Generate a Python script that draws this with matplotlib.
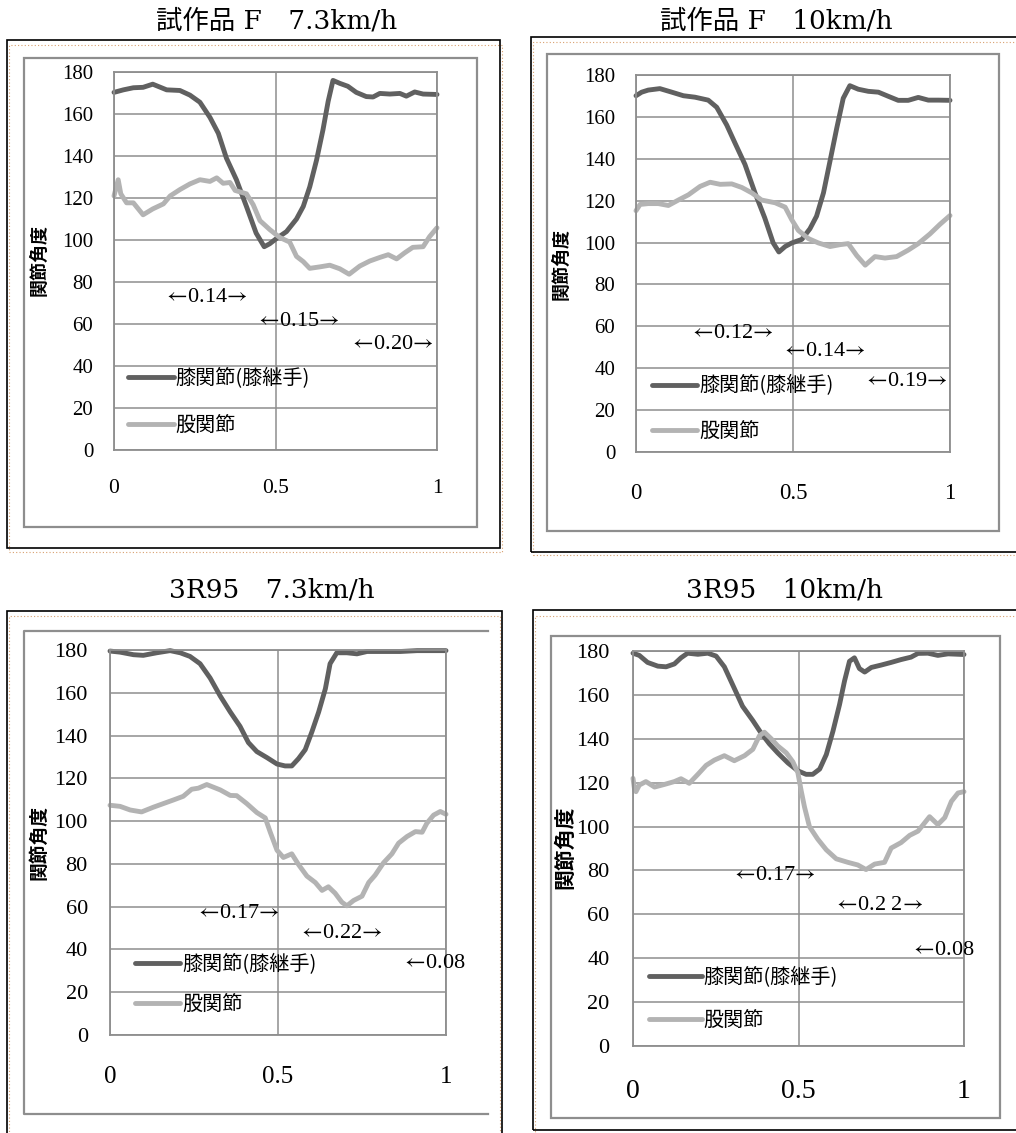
import matplotlib
matplotlib.use("Agg")
import matplotlib.pyplot as plt
from matplotlib.patches import Rectangle
from matplotlib.lines import Line2D

plt.rcParams['font.family'] = ['Liberation Serif', 'Noto Sans CJK JP', 'DejaVu Sans']
plt.rcParams['mathtext.fontset'] = 'stix'

# --- data (x = gait cycle 0..1, y = joint angle in deg) ---
y_ticks = [0, 20, 40, 60, 80, 100, 120, 140, 160, 180]
x_ticks = [0, 0.5, 1]
x_tick_labels = ['0', '0.5', '1']
legend_labels = ['膝関節(膝継手)', '股関節']
ylabel_text = '関節角度'

# 試作品 F 7.3km/h
f73_knee_x = [0, 0.029, 0.06, 0.09, 0.12, 0.163, 0.204, 0.235, 0.266, 0.297, 0.323, 0.348, 0.379,
              0.41, 0.44, 0.465, 0.482, 0.503, 0.534, 0.565, 0.586, 0.606, 0.627, 0.647, 0.663,
              0.678, 0.699, 0.724, 0.75, 0.781, 0.802, 0.823, 0.854, 0.885, 0.905, 0.931, 0.957, 1.0]
f73_knee = [170.3, 171.5, 172.5, 172.7, 174.2, 171.5, 171.2, 169.0, 165.6, 158.4, 150.8, 139.0, 128.7,
            116.0, 103.3, 96.8, 98.2, 100.7, 104.0, 110.0, 116.0, 125.3, 138.0, 152.5, 166.0,
            176.0, 174.6, 173.2, 170.3, 168.3, 168.1, 169.8, 169.5, 169.8, 168.5, 170.5, 169.5, 169.3]
f73_hip_x = [0, 0.013, 0.021, 0.039, 0.06, 0.09, 0.12, 0.153, 0.174, 0.204, 0.235, 0.266, 0.297,
             0.318, 0.338, 0.359, 0.375, 0.41, 0.431, 0.452, 0.482, 0.513, 0.544, 0.565, 0.586,
             0.606, 0.637, 0.668, 0.699, 0.728, 0.761, 0.792, 0.823, 0.849, 0.875, 0.9, 0.925,
             0.957, 0.977, 1.0]
f73_hip = [121.0, 128.7, 122.0, 117.7, 117.7, 112.0, 114.8, 117.2, 121.0, 124.0, 126.7, 128.7, 127.9,
           129.6, 127.0, 127.4, 123.6, 122.0, 116.8, 109.2, 105.0, 101.2, 99.0, 92.2, 89.7,
           86.5, 87.2, 88.0, 86.3, 83.7, 87.6, 90.0, 91.7, 93.0, 91.0, 93.9, 96.5,
           96.8, 101.6, 105.8]
f73_notes = ['←0.14→', '←0.15→', '←0.20→']
f73_note_x = [0.284, 0.568, 0.859]
f73_note_y = [72.7, 61.2, 50.3]

# 試作品 F 10km/h
f10_knee_x = [0, 0.018, 0.039, 0.076, 0.114, 0.151, 0.188, 0.23, 0.257, 0.289, 0.315, 0.347, 0.379,
              0.41, 0.437, 0.455, 0.475, 0.496, 0.528, 0.554, 0.575, 0.597, 0.618, 0.639, 0.66,
              0.681, 0.708, 0.74, 0.772, 0.804, 0.835, 0.867, 0.899, 0.931, 0.963, 1.0]
f10_knee = [170.1, 171.8, 172.8, 173.5, 171.8, 170.1, 169.4, 168.0, 164.6, 156.1, 147.6, 137.3, 123.7,
            111.8, 99.8, 95.5, 98.1, 99.8, 101.5, 106.6, 112.6, 123.7, 139.0, 154.4, 168.9,
            174.9, 173.2, 172.2, 171.8, 169.8, 167.9, 167.9, 169.3, 168.0, 168.0, 167.9]
f10_hip_x = [0, 0.013, 0.039, 0.071, 0.103, 0.135, 0.167, 0.204, 0.236, 0.268, 0.305, 0.337, 0.369,
             0.4, 0.443, 0.475, 0.496, 0.517, 0.549, 0.581, 0.618, 0.65, 0.676, 0.703, 0.73,
             0.761, 0.793, 0.83, 0.867, 0.899, 0.936, 0.968, 1.0]
f10_hip = [115.2, 118.2, 118.6, 118.6, 117.7, 120.3, 122.8, 126.8, 128.8, 127.8, 128.0, 126.3, 123.7,
           120.3, 119.0, 116.9, 110.9, 105.8, 101.9, 99.8, 98.1, 99.0, 99.5, 93.8, 89.2,
           93.3, 92.6, 93.3, 96.4, 99.5, 104.1, 108.7, 112.9]
f10_notes = ['←0.12→', '←0.14→', '←0.19→']
f10_note_x = [0.303, 0.597, 0.857]
f10_note_y = [56.8, 47.8, 33.6]

# 3R95 7.3km/h
r73_knee_x = [0, 0.03, 0.07, 0.099, 0.139, 0.179, 0.209, 0.238, 0.268, 0.298, 0.328, 0.358, 0.387,
              0.412, 0.437, 0.467, 0.497, 0.521, 0.541, 0.561, 0.581, 0.601, 0.621, 0.641, 0.655,
              0.675, 0.705, 0.735, 0.765, 0.814, 0.864, 0.914, 1.0]
r73_knee = [179.5, 179.0, 177.8, 177.5, 178.7, 179.7, 178.7, 177.0, 173.6, 166.9, 158.5, 151.0, 144.3,
            136.7, 132.5, 129.7, 126.7, 125.8, 125.8, 129.2, 133.4, 141.8, 151.0, 161.9, 173.6,
            178.7, 178.7, 178.2, 179.3, 179.3, 179.3, 179.7, 179.7]
r73_hip_x = [0, 0.03, 0.06, 0.094, 0.129, 0.159, 0.189, 0.218, 0.243, 0.263, 0.288, 0.328, 0.358,
             0.377, 0.407, 0.437, 0.462, 0.477, 0.497, 0.516, 0.541, 0.561, 0.586, 0.611, 0.631,
             0.65, 0.67, 0.69, 0.705, 0.725, 0.75, 0.77, 0.789, 0.814, 0.839, 0.859, 0.884,
             0.909, 0.929, 0.943, 0.963, 0.983, 1.0]
r73_hip = [107.4, 106.9, 105.2, 104.3, 106.5, 108.2, 109.9, 111.6, 114.9, 115.4, 117.1, 114.6, 112.0,
           111.9, 108.2, 104.0, 101.5, 94.8, 86.4, 83.0, 84.7, 79.7, 74.3, 71.3, 67.6,
           69.3, 66.3, 62.1, 60.4, 62.9, 64.9, 71.3, 74.7, 80.5, 84.7, 89.7, 92.8,
           95.1, 94.8, 99.0, 102.8, 104.5, 103.2]
r73_notes = ['←0.17→', '←0.22→', '←0.08']
r73_note_x = [0.379, 0.687, 0.866]
r73_note_y = [57.0, 47.5, 33.5]

# 3R95 10km/h
r10_knee_x = [0, 0.019, 0.044, 0.075, 0.1, 0.125, 0.145, 0.165, 0.196, 0.226, 0.251, 0.276, 0.306,
              0.331, 0.362, 0.387, 0.412, 0.437, 0.468, 0.498, 0.523, 0.543, 0.564, 0.584, 0.604,
              0.624, 0.639, 0.654, 0.669, 0.684, 0.7, 0.72, 0.75, 0.78, 0.81, 0.84, 0.861,
              0.891, 0.921, 0.952, 1.0]
r10_knee = [179.0, 178.0, 174.8, 173.1, 172.8, 174.1, 176.9, 179.0, 178.5, 179.0, 177.7, 172.8, 163.0,
            154.8, 148.3, 142.6, 137.7, 133.6, 129.0, 125.4, 123.8, 123.8, 126.2, 132.8, 143.4,
            155.6, 166.3, 175.3, 176.9, 172.0, 170.4, 172.5, 173.6, 174.8, 176.1, 177.2, 178.9,
            179.0, 178.0, 178.7, 178.4]
r10_hip_x = [0, 0.005, 0.009, 0.019, 0.039, 0.065, 0.095, 0.125, 0.145, 0.17, 0.196, 0.221, 0.246,
             0.276, 0.306, 0.337, 0.362, 0.382, 0.397, 0.417, 0.437, 0.463, 0.483, 0.498, 0.508,
             0.518, 0.533, 0.558, 0.584, 0.614, 0.649, 0.679, 0.704, 0.73, 0.76, 0.78, 0.81,
             0.836, 0.861, 0.896, 0.921, 0.942, 0.962, 0.982, 1.0]
r10_hip = [122.0, 116.5, 115.9, 118.9, 120.5, 118.0, 119.2, 120.5, 121.8, 119.7, 123.8, 127.9, 130.3,
           132.3, 130.0, 132.3, 135.2, 141.4, 143.0, 140.1, 136.8, 133.6, 129.5, 124.6, 116.4,
           109.0, 100.0, 94.3, 89.4, 85.3, 83.7, 82.5, 80.4, 82.9, 83.7, 90.2, 92.7,
           96.0, 97.9, 104.5, 100.9, 104.1, 111.5, 115.3, 115.9]
r10_notes = ['←0.17→', '←0.2 2→', '←0.08']
r10_note_x = [0.424, 0.74, 0.836]
r10_note_y = [77.5, 64.1, 43.3]

W, H = 1016, 1133
KNEE_C = '#606060'
HIP_C = '#b3b3b3'
GRID_C = '#8e8e8e'


def fig_box(x0, y0, x1, y1):
    return [x0 / W, 1 - y1 / H, (x1 - x0) / W, (y1 - y0) / H]


def frame(fig, box, **kw):
    fig.patches.append(Rectangle(box[:2], box[2], box[3], transform=fig.transFigure,
                                 fill=False, **kw))


def note_text(t):
    # long thin arrows like the original (STIX mathtext), digits stay in the serif font
    return t.replace('←', r'$\leftarrow\!$').replace('→', r'$\!\rightarrow$')


def draw_panel(fig, p):
    frame(fig, fig_box(*p['dotted']), ec='#d8a06e', lw=0.8, ls=(0, (1, 2)))
    frame(fig, fig_box(*p['outer']), ec='black', lw=1.2)
    x0, y0, x1, y1 = p['inner']
    if p.get('open_right'):
        xs = [x1 / W, x0 / W, x0 / W, x1 / W]
        ys = [1 - y0 / H, 1 - y0 / H, 1 - y1 / H, 1 - y1 / H]
        fig.lines.append(Line2D(xs, ys, transform=fig.transFigure, color='#8e8e8e', lw=1.6))
    else:
        frame(fig, fig_box(x0, y0, x1, y1), ec='#8e8e8e', lw=1.6)

    ax = fig.add_axes(fig_box(*p['plot']))
    ax.set_xlim(0, 1)
    ax.set_ylim(0, 180)
    ax.set_xticks(x_ticks)
    ax.set_xticklabels(x_tick_labels)
    ax.set_yticks(y_ticks)
    ax.grid(True, color=GRID_C, lw=1.1)
    ax.set_axisbelow(True)
    for s in ax.spines.values():
        s.set_color(GRID_C)
        s.set_linewidth(1.3)
    ax.tick_params(axis='x', length=0, pad=p['xpad'], labelsize=p['xsize'],
                   labelfontfamily='Liberation Serif')
    ax.tick_params(axis='y', length=0, pad=p['ypad'], labelsize=p['ysize'],
                   labelfontfamily='Liberation Serif')

    k, = ax.plot(p['kx'], p['ky'], color=KNEE_C, lw=3.5, clip_on=False, solid_capstyle='round')
    h, = ax.plot(p['hx'], p['hy'], color=HIP_C, lw=3.5, clip_on=False, solid_capstyle='round')

    for t, nx, ny in zip(p['notes'], p['nx'], p['ny']):
        ha = 'center' if t.endswith('→') else 'left'
        ax.text(nx, ny, note_text(t), ha=ha, va='center', fontsize=16,
                family='Liberation Serif')

    ax.set_ylabel(ylabel_text, family=['Noto Sans CJK JP'], weight='bold', fontsize=p['ylsize'])
    ax.yaxis.set_label_coords(*p['ylab'])

    ax.legend([k, h], legend_labels, loc='center left', bbox_to_anchor=p['leg'],
              frameon=False, borderpad=0, borderaxespad=0, handletextpad=0.1,
              handlelength=p['hlen'], labelspacing=p['lspace'],
              prop={'family': ['Noto Sans CJK JP'], 'size': 14.5})

    fig.text(p['title_xy'][0] / W, 1 - p['title_xy'][1] / H, p['title'], ha='center', va='center',
             fontsize=19, family=['DejaVu Serif', 'Noto Sans CJK JP'])
    return ax


panels = [
    dict(title='試作品 F　7.3km/h', title_xy=(277, 21), plot=(114, 72, 437, 450),
         outer=(7, 40, 500, 548), dotted=(9, 45, 502, 552), inner=(24, 58, 477, 527),
         ylab=(-0.204, 0.503), leg=(0.044, 0.127), hlen=2.25, lspace=1.3,
         xpad=21, ypad=15, xsize=15.5, ysize=15, ylsize=13,
         kx=f73_knee_x, ky=f73_knee, hx=f73_hip_x, hy=f73_hip,
         notes=f73_notes, nx=f73_note_x, ny=f73_note_y),
    dict(title='試作品 F　10km/h', title_xy=(776, 21), plot=(636, 75, 950, 452),
         outer=(531, 37, 1030, 552), dotted=(533, 42, 1030, 555), inner=(547, 54, 999, 531),
         ylab=(-0.21, 0.499), leg=(0.05, 0.115), hlen=2.25, lspace=1.2,
         xpad=22, ypad=15, xsize=16.5, ysize=15, ylsize=13,
         kx=f10_knee_x, ky=f10_knee, hx=f10_hip_x, hy=f10_hip,
         notes=f10_notes, nx=f10_note_x, ny=f10_note_y),
    dict(title='3R95　7.3km/h', title_xy=(272, 590), plot=(110, 650, 446, 1035),
         outer=(7, 611, 502, 1150), dotted=(9, 616, 500, 1150), inner=(24, 631, 488, 1114),
         open_right=True,
         ylab=(-0.182, 0.501), leg=(0.074, 0.131), hlen=2.25, lspace=0.95,
         xpad=22, ypad=16, xsize=18, ysize=16, ylsize=13.5,
         kx=r73_knee_x, ky=r73_knee, hx=r73_hip_x, hy=r73_hip,
         notes=r73_notes, nx=r73_note_x, ny=r73_note_y),
    dict(title='3R95　10km/h', title_xy=(785, 590), plot=(633, 651, 964, 1046),
         outer=(533, 610, 1030, 1130), dotted=(535, 616, 1030, 1150), inner=(551, 636, 1000, 1118),
         ylab=(-0.175, 0.504), leg=(0.049, 0.119), hlen=2.6, lspace=1.1,
         xpad=24, ypad=17, xsize=20, ysize=16, ylsize=15,
         kx=r10_knee_x, ky=r10_knee, hx=r10_hip_x, hy=r10_hip,
         notes=r10_notes, nx=r10_note_x, ny=r10_note_y),
]


def main():
    fig = plt.figure(figsize=(W / 100, H / 100), dpi=100)
    for p in panels:
        draw_panel(fig, p)
    fig.savefig('out.png', dpi=100)


if __name__ == '__main__':
    main()
